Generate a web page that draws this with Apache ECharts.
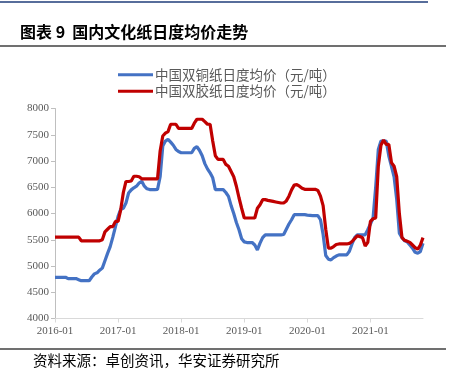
<!DOCTYPE html>
<html>
<head>
<meta charset="utf-8">
<script src="https://cdn.jsdelivr.net/npm/echarts@6/dist/echarts.min.js"></script>
<style>
html,body{margin:0;padding:0;background:#fff;}
#chart{width:455px;height:377px;}
</style>
</head>
<body>
<div id="chart"></div>
<script>
// Half-monthly dates from 2016-01-01 to 2021-11-01
const categories = [];
for (let y = 2016; y <= 2021; y++) {
  for (let m = 1; m <= 12; m++) {
    const mm = (m < 10 ? '0' : '') + m;
    categories.push(y + '-' + mm + '-01');
    if (y === 2021 && m === 11) break;
    categories.push(y + '-' + mm + '-16');
  }
}

const yTicks = [4000, 4500, 5000, 5500, 6000, 6500, 7000, 7500, 8000];

// 中国双铜纸日度均价（元/吨）
const coatedPaper = [
  4785, 4785, 4785, 4785, 4785, 4760, 4760, 4760, 4760, 4740,
  4720, 4720, 4720, 4720, 4790, 4850, 4870, 4920, 4960, 5100,
  5240, 5370, 5550, 5750, 5945, 6080, 6100, 6200, 6390, 6450,
  6490, 6520, 6580, 6615, 6520, 6470, 6456, 6456, 6456, 6460,
  6700, 7285, 7380, 7413, 7360, 7300, 7221, 7180, 7157, 7157,
  7157, 7157, 7157, 7240, 7272, 7200, 7100, 6950, 6850, 6775,
  6680, 6456, 6456, 6456, 6456, 6400, 6327, 6150, 6000, 5830,
  5690, 5520, 5460, 5447, 5447, 5447, 5400, 5307, 5435, 5540,
  5594, 5594, 5594, 5594, 5594, 5594, 5594, 5600, 5700, 5800,
  5881, 5977, 5977, 5977, 5977, 5977, 5970, 5965, 5960, 5960,
  5960, 5881, 5600, 5200, 5130, 5116, 5160, 5190, 5212, 5212,
  5212, 5212, 5280, 5420, 5540, 5594, 5594, 5594, 5594, 5690,
  5800, 5914, 6500, 7221, 7380, 7380, 7380, 7094, 6900, 6700,
  6264, 5626, 5540, 5480, 5460, 5400, 5340, 5260, 5244, 5275,
  5435
];

// 中国双胶纸日度均价（元/吨）
const offsetPaper = [
  5550, 5550, 5550, 5550, 5550, 5550, 5550, 5550, 5550, 5550,
  5480, 5480, 5480, 5480, 5480, 5480, 5480, 5480, 5500, 5650,
  5700, 5750, 5750, 5850, 5850, 6070, 6400, 6610, 6610, 6620,
  6710, 6710, 6700, 6660, 6660, 6660, 6660, 6660, 6660, 6660,
  7190, 7476, 7530, 7560, 7700, 7700, 7700, 7620, 7620, 7620,
  7620, 7620, 7620, 7720, 7795, 7795, 7795, 7750, 7700, 7700,
  7380, 7100, 7030, 7030, 7030, 6935, 6900, 6800, 6700, 6519,
  6300, 6100, 5914, 5914, 5914, 5914, 5914, 6100, 6168, 6264,
  6264, 6250, 6240, 6230, 6220, 6210, 6200, 6200, 6240, 6330,
  6450, 6540, 6550, 6520, 6480, 6460, 6460, 6460, 6460, 6460,
  6440, 6330, 6150, 5700, 5340, 5340, 5370, 5410, 5420, 5420,
  5420, 5420, 5430, 5466, 5520, 5575, 5560, 5540, 5380, 5450,
  5850, 5900, 5914, 6900, 7300, 7400, 7317, 7317, 6970, 6900,
  6700, 6000, 5540, 5490, 5470, 5450, 5400, 5350, 5320, 5400,
  5540
];

const seriesNames = ['中国双铜纸日度均价（元/吨）', '中国双胶纸日度均价（元/吨）'];
const titleText = '图表 9  国内文化纸日度均价走势';
const sourceText = '资料来源：卓创资讯，华安证券研究所';

const chart = echarts.init(document.getElementById('chart'), null, {renderer: 'canvas'});
const isJan = (idx, val) => /-01-01$/.test(val);

chart.setOption({
  animation: false,
  backgroundColor: '#ffffff',
  graphic: [
    {type: 'line', shape: {x1: 0, y1: 2, x2: 428, y2: 2}, style: {stroke: '#1f3c7a', lineWidth: 1.5}},
    {type: 'text', left: 20, top: 24, style: {text: titleText, font: 'bold 16px "Noto Sans CJK SC"', fill: '#000'}},
    {type: 'line', shape: {x1: 0, y1: 46, x2: 446, y2: 46}, style: {stroke: '#404040', lineWidth: 1.5}},
    {type: 'line', shape: {x1: 0, y1: 349, x2: 446, y2: 349}, style: {stroke: '#404040', lineWidth: 1.5}},
    {type: 'text', left: 33, top: 353, style: {text: sourceText, font: '14.5px "Noto Sans CJK SC"', fill: '#000'}}
  ],
  legend: {
    left: 113,
    top: 63,
    orient: 'vertical',
    itemGap: 3,
    itemWidth: 35,
    itemHeight: 15,
    icon: 'path://M0,6 L35,6 L35,9 L0,9 Z',
    textStyle: {fontFamily: '"Noto Sans CJK SC"', fontSize: 13.5, color: '#595959', padding: [0, 0, 0, -3]},
    data: seriesNames
  },
  grid: {left: 55, top: 108.5, right: 32, bottom: 58.5, containLabel: false},
  xAxis: {
    type: 'category',
    data: categories,
    boundaryGap: false,
    axisLine: {lineStyle: {color: '#d9d9d9', width: 1}},
    axisTick: {show: true, interval: isJan, length: 4, lineStyle: {color: '#d9d9d9'}},
    axisLabel: {
      interval: isJan,
      formatter: v => v.slice(0, 7),
      fontFamily: '"Liberation Serif"',
      fontSize: 11,
      color: '#595959',
      margin: 7
    },
    splitLine: {show: false}
  },
  yAxis: {
    type: 'value',
    min: yTicks[0],
    max: yTicks[yTicks.length - 1],
    interval: 500,
    axisLine: {show: true, lineStyle: {color: '#bfbfbf', width: 1}},
    axisTick: {show: true, length: 4, lineStyle: {color: '#bfbfbf'}},
    axisLabel: {fontFamily: '"Liberation Serif"', fontSize: 11, color: '#595959', margin: 6, formatter: v => String(v)},
    splitLine: {show: false}
  },
  series: [
    {
      name: seriesNames[0],
      type: 'line',
      data: coatedPaper,
      showSymbol: false,
      symbol: 'none',
      lineStyle: {color: '#4472c4', width: 3.2},
      itemStyle: {color: '#4472c4'}
    },
    {
      name: seriesNames[1],
      type: 'line',
      data: offsetPaper,
      showSymbol: false,
      symbol: 'none',
      lineStyle: {color: '#c00000', width: 3.2},
      itemStyle: {color: '#c00000'}
    }
  ]
});
</script>
</body>
</html>
